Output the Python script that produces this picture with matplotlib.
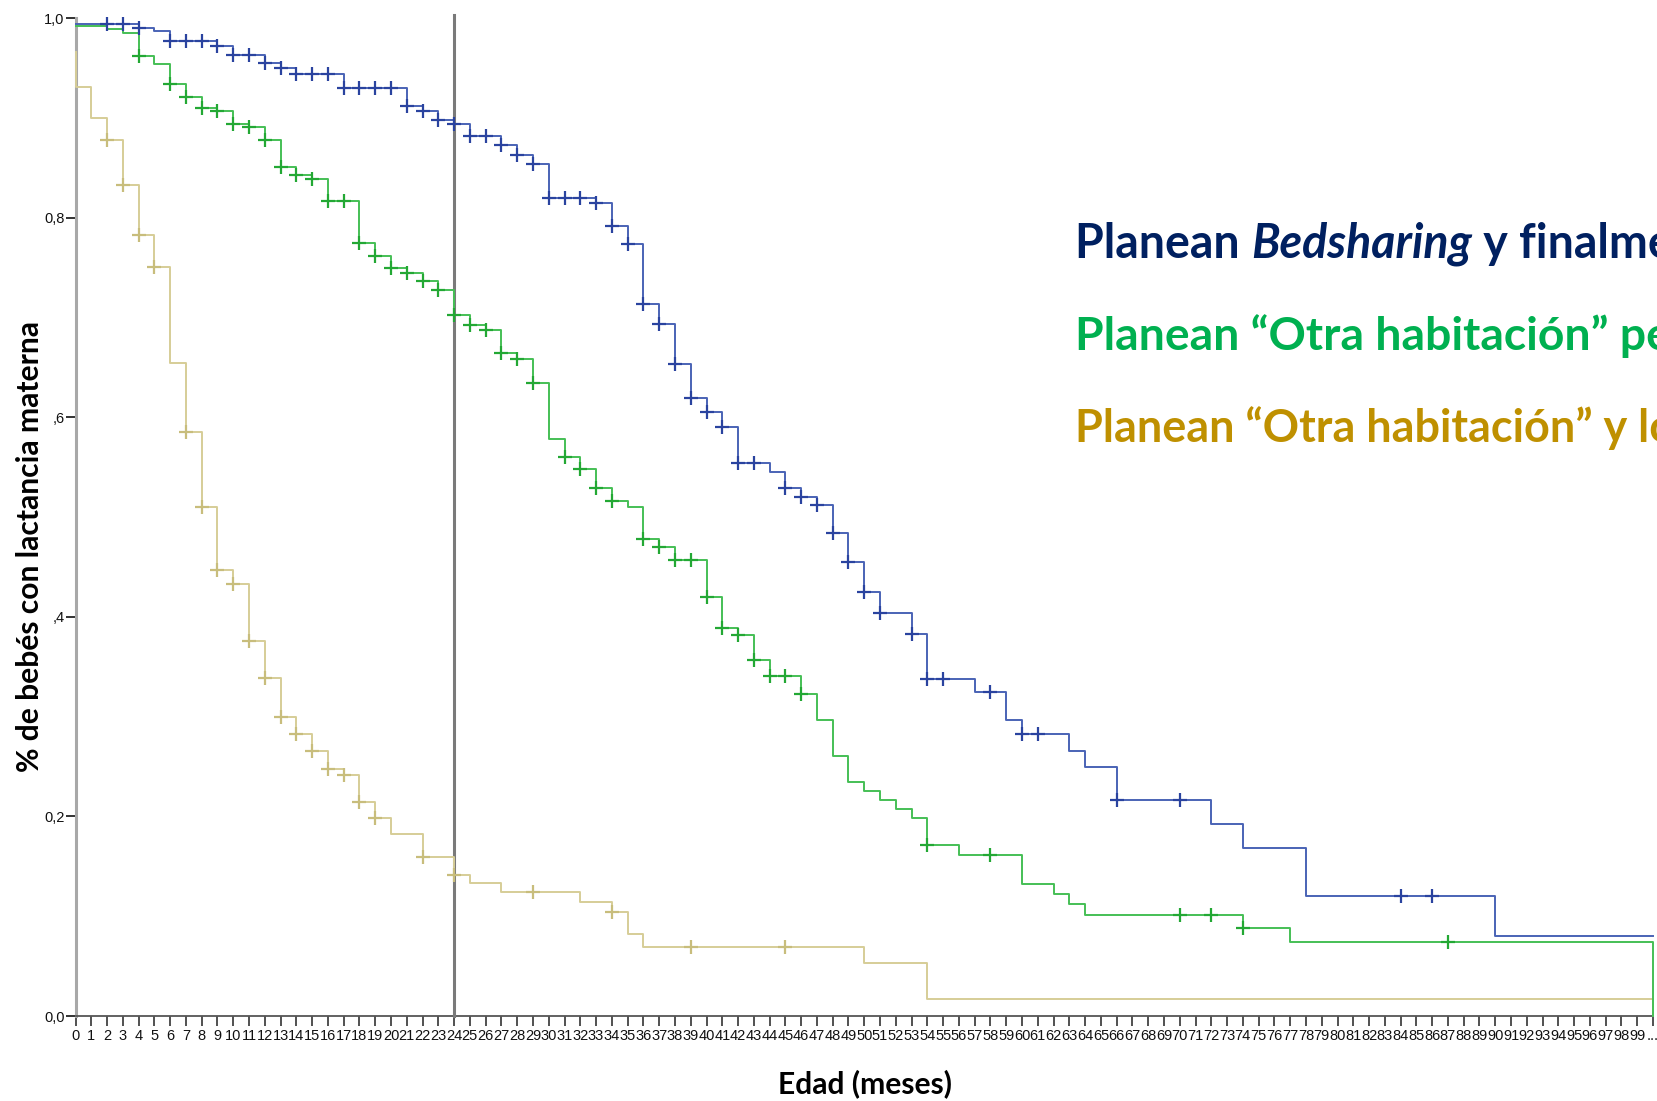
import matplotlib
matplotlib.use('Agg')
import matplotlib.pyplot as plt
import numpy as np
from matplotlib import font_manager as fm


def pick(*names):
    for n in names:
        try:
            fm.findfont(fm.FontProperties(family=n), fallback_to_default=False)
            return n
        except Exception:
            pass
    return 'DejaVu Sans'


TICK_FONT = pick('Liberation Sans Narrow', 'Liberation Sans', 'Arial')
BOLD_FONT = pick('Lato', 'Open Sans', 'Noto Sans')

# ---------------- data (Kaplan-Meier curves) ----------------
# Planean Bedsharing y finalmente lo hacen (blue)
blue_start = 0.994
blue_times = [4, 5, 6, 9, 10, 12, 13, 14, 17, 21, 22, 23, 24, 25, 27, 28, 29, 30, 33, 34,
              35, 36, 37, 38, 39, 40, 41, 42, 44, 45, 46, 47, 48, 49, 50, 51, 53, 54, 57, 59,
              60, 63, 64, 66, 72, 74, 78, 90]
blue_values = [0.990, 0.987, 0.977, 0.972, 0.963, 0.955, 0.950, 0.944, 0.930, 0.912, 0.907,
               0.898, 0.894, 0.882, 0.873, 0.863, 0.854, 0.820, 0.815, 0.792, 0.774, 0.713,
               0.693, 0.653, 0.619, 0.605, 0.590, 0.554, 0.545, 0.529, 0.520, 0.512, 0.484,
               0.455, 0.425, 0.404, 0.383, 0.338, 0.325, 0.297, 0.283, 0.266, 0.250, 0.216,
               0.192, 0.168, 0.120, 0.080]
blue_censored = [2, 3, 4, 6, 7, 8, 9, 10, 11, 12, 13, 14, 15, 16, 17, 18, 19, 20, 21, 22, 23,
                 24, 25, 26, 27, 28, 29, 30, 31, 32, 33, 34, 35, 36, 37, 38, 39, 40, 41, 42,
                 43, 45, 46, 47, 48, 49, 50, 51, 53, 54, 55, 58, 60, 61, 66, 70, 84, 86]

# Planean "Otra habitación" pero ... (green)
green_start = 0.992
green_times = [2, 3, 4, 5, 6, 7, 8, 9, 10, 11, 12, 13, 14, 15, 16, 18, 19, 20, 21, 22, 23, 24,
               25, 26, 27, 28, 29, 30, 31, 32, 33, 34, 35, 36, 37, 38, 40, 41, 42, 43, 44, 46,
               47, 48, 49, 50, 51, 52, 53, 54, 56, 60, 62, 63, 64, 74, 77, 100]
green_values = [0.989, 0.985, 0.962, 0.954, 0.934, 0.921, 0.910, 0.907, 0.894, 0.891, 0.878,
                0.851, 0.843, 0.839, 0.817, 0.775, 0.762, 0.749, 0.744, 0.736, 0.727, 0.702,
                0.692, 0.687, 0.664, 0.658, 0.634, 0.578, 0.560, 0.548, 0.529, 0.516, 0.510,
                0.478, 0.470, 0.457, 0.420, 0.389, 0.382, 0.357, 0.341, 0.323, 0.297, 0.261,
                0.234, 0.225, 0.216, 0.207, 0.198, 0.171, 0.161, 0.132, 0.122, 0.112, 0.101,
                0.088, 0.074, 0.0]
green_censored = [4, 6, 7, 8, 9, 10, 11, 12, 13, 14, 15, 16, 17, 18, 19, 20, 21, 22, 23, 24,
                  25, 26, 27, 28, 29, 31, 32, 33, 34, 36, 37, 38, 39, 40, 41, 42, 43, 44, 45,
                  46, 54, 58, 70, 72, 74, 87]

# Planean "Otra habitación" y lo ... (gold)
gold_start = 0.966
gold_times = [0, 1, 2, 3, 4, 5, 6, 7, 8, 9, 10, 11, 12, 13, 14, 15, 16, 17, 18, 19, 20, 22,
              24, 25, 27, 32, 34, 35, 36, 50, 54, 100]
gold_values = [0.931, 0.900, 0.878, 0.833, 0.783, 0.751, 0.654, 0.585, 0.510, 0.447, 0.433,
               0.376, 0.339, 0.300, 0.283, 0.266, 0.247, 0.241, 0.214, 0.198, 0.182, 0.159,
               0.141, 0.133, 0.124, 0.114, 0.104, 0.082, 0.069, 0.053, 0.017, 0.0]
gold_censored = [2, 3, 4, 5, 7, 8, 9, 10, 11, 12, 13, 14, 15, 16, 17, 18, 19, 22, 24, 29, 34,
                 39, 45]

x_ticks = list(range(0, 101))
x_ticklabels = [str(i) for i in range(0, 100)] + ['...']
y_ticks = [0.0, 0.2, 0.4, 0.6, 0.8, 1.0]
y_ticklabels = ['0,0', '0,2', ',4', ',6', '0,8', '1,0']
ref_month = 24

# the coloured labels run into the right edge of the slide in the original
legend_lines = [
    [('Planean ', 'normal'), ('Bedsharing', 'italic'), (' y finalme', 'normal')],
    [('Planean “Otra habitación” pe', 'normal')],
    [('Planean “Otra habitación” y lo', 'normal')],
]
legend_colors = ['#002060', '#00B050', '#BF9000']
legend_sizes = [33.5, 33.3, 32.4]

x_label = 'Edad (meses)'
y_label = '% de bebés con lactancia materna'

# ---------------- figure ----------------
W, H = 1658, 1101
fig = plt.figure(figsize=(W / 100, H / 100), dpi=100)
fig.patch.set_facecolor('white')

left_px, right_px, top_px, bottom_px = 75.5, 1653, 18, 1016
ax = fig.add_axes([left_px / W, 1 - bottom_px / H, (right_px - left_px) / W,
                   (bottom_px - top_px) / H])
ax.set_xlim(0, 100)
ax.set_ylim(0, 1.0)


def draw_curve(start, times, values, censored, lc, mc):
    times = np.asarray(times, dtype=float)
    values = np.asarray(values, dtype=float)
    xs = np.concatenate([[0.0], times, [100.0]])
    ys = np.concatenate([[start], values, [values[-1]]])
    ax.step(xs, ys, where='post', color=lc, lw=1.4, zorder=3, clip_on=False)
    cen = np.asarray(censored, dtype=float)
    idx = np.searchsorted(times, cen, side='right') - 1
    cy = np.where(idx < 0, start, values[np.clip(idx, 0, None)])
    ax.plot(cen, cy, linestyle='none', marker='+', markersize=10, mew=1.6,
            color=mc, zorder=4, clip_on=False)


draw_curve(gold_start, gold_times, gold_values, gold_censored, '#d6cd97', '#c8bd7c')
draw_curve(green_start, green_times, green_values, green_censored, '#45bf55', '#23a834')
draw_curve(blue_start, blue_times, blue_values, blue_censored, '#4a63b6', '#2a439f')

ax.axvline(ref_month, color='#7a7a7a', lw=2.2, zorder=2.6, ymax=1.003, clip_on=False)

for s in ['top', 'right']:
    ax.spines[s].set_visible(False)
ax.spines['left'].set_color('#a8a8a8')
ax.spines['left'].set_linewidth(2.2)
ax.spines['bottom'].set_color('#555555')
ax.spines['bottom'].set_linewidth(1.3)

ax.set_xticks(x_ticks)
ax.set_xticklabels(x_ticklabels, fontfamily=TICK_FONT, fontsize=10.5)
ax.set_yticks(y_ticks)
ax.set_yticklabels(y_ticklabels, fontfamily=TICK_FONT, fontsize=10.5)
ax.tick_params(axis='x', length=7, width=1.1, color='#222222', pad=2, labelcolor='#111111')
ax.tick_params(axis='y', length=7, width=1.3, color='#222222', pad=1, labelcolor='#111111')

fig.text(30 / W, 1 - 547 / H, y_label, rotation=90, ha='center', va='center',
         fontfamily=BOLD_FONT, fontweight='bold', fontsize=21.6, color='black')
fig.text(865 / W, 1 - 1084 / H, x_label, ha='center', va='center',
         fontfamily=BOLD_FONT, fontweight='bold', fontsize=21.6, color='black')

renderer = fig.canvas.get_renderer()
baselines_px = [258, 350, 442]
x0_px = 1075
for pieces, color, base, size in zip(legend_lines, legend_colors, baselines_px, legend_sizes):
    x_px = x0_px
    for txt, style in pieces:
        t = fig.text(x_px / W, 1 - base / H, txt, ha='left', va='baseline',
                     fontfamily=BOLD_FONT, fontweight='bold', fontstyle=style,
                     fontsize=size, color=color)
        bb = t.get_window_extent(renderer=renderer)
        x_px += bb.width

fig.savefig('out.png', dpi=100, facecolor='white')
